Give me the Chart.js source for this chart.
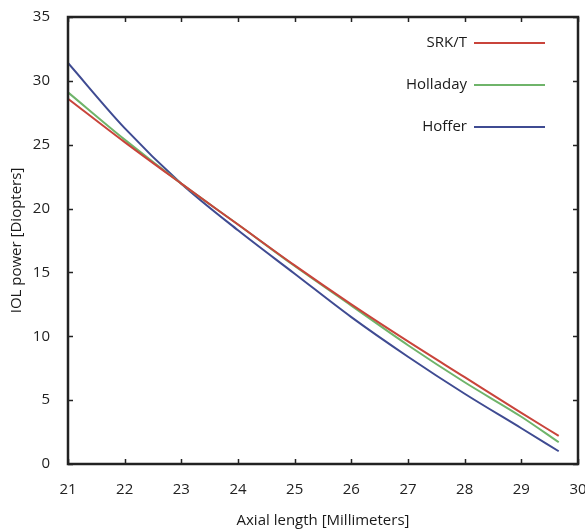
<!DOCTYPE html>
<html>
<head>
<meta charset="utf-8">
<script src="https://cdn.jsdelivr.net/npm/chart.js@4/dist/chart.umd.min.js"></script>
<style>
  html, body { margin: 0; padding: 0; background: #fff; }
  #wrap { width: 585px; height: 530px; position: relative; }
</style>
</head>
<body>
<div id="wrap"><canvas id="chartIol"></canvas></div>
<script>
// longitud axial (mm) y potencia LIO (dioptrias)
var axialLength = [21, 22, 23, 24, 25, 26, 27, 28, 29, 29.66];
var srkT     = [28.6, 25.2, 21.95, 18.75, 15.55, 12.5, 9.6, 6.8, 4.0, 2.2];
var holladay = [29.1, 25.4, 21.95, 18.75, 15.5, 12.4, 9.3, 6.4, 3.7, 1.7];
var hoffer   = [31.4, 26.3, 21.95, 18.3, 14.9, 11.5, 8.4, 5.5, 2.8, 1.0];

var xTicks = [21, 22, 23, 24, 25, 26, 27, 28, 29, 30];
var yTicks = [0, 5, 10, 15, 20, 25, 30, 35];

var seriesNames = ["SRK/T", "Holladay", "Hoffer"];
var seriesColors = ["#c9443b", "#6fb46a", "#3f4b92"];

function toPoints(vals) {
  return vals.map(function (v, i) { return { x: axialLength[i], y: v }; });
}

var fuente = "'Open Sans', 'Noto Sans', sans-serif";

// caja alrededor del area, marcas hacia adentro y leyenda a la derecha
var cajaPlugin = {
  id: "caja",
  afterDraw: function (chart) {
    var ctx = chart.ctx;
    var a = chart.chartArea;
    var sx = chart.scales.x, sy = chart.scales.y;
    ctx.save();
    ctx.strokeStyle = "#222";
    ctx.lineWidth = 1.5;
    // marcas
    xTicks.forEach(function (t) {
      var px = Math.round(sx.getPixelForValue(t)) + 0.5;
      ctx.beginPath();
      ctx.moveTo(px, a.bottom); ctx.lineTo(px, a.bottom - 5);
      ctx.moveTo(px, a.top); ctx.lineTo(px, a.top + 5);
      ctx.stroke();
    });
    yTicks.forEach(function (t) {
      var py = Math.round(sy.getPixelForValue(t)) + 0.5;
      ctx.beginPath();
      ctx.moveTo(a.left, py); ctx.lineTo(a.left + 5, py);
      ctx.moveTo(a.right, py); ctx.lineTo(a.right - 5, py);
      ctx.stroke();
    });
    ctx.lineWidth = 2.5;
    ctx.strokeRect(a.left, a.top, a.right - a.left, a.bottom - a.top);

    // leyenda
    ctx.font = "15px " + fuente;
    ctx.textAlign = "right";
    ctx.textBaseline = "middle";
    chart.data.datasets.forEach(function (ds, i) {
      var y = a.top + 26 + i * 42;
      ctx.fillStyle = "#1a1a1a";
      ctx.fillText(ds.label, a.right - 111, y);
      ctx.strokeStyle = ds.borderColor;
      ctx.lineWidth = 2;
      ctx.beginPath();
      ctx.moveTo(a.right - 104, y);
      ctx.lineTo(a.right - 33, y);
      ctx.stroke();
    });
    ctx.restore();
  }
};

new Chart(document.getElementById("chartIol"), {
  type: "line",
  data: {
    datasets: [
      { label: seriesNames[0], data: toPoints(srkT), borderColor: seriesColors[0] },
      { label: seriesNames[1], data: toPoints(holladay), borderColor: seriesColors[1] },
      { label: seriesNames[2], data: toPoints(hoffer), borderColor: seriesColors[2] }
    ]
  },
  options: {
    responsive: true,
    maintainAspectRatio: false,
    animation: false,
    layout: { padding: { top: 17, right: 7, left: 0, bottom: 0 } },
    elements: {
      line: { borderWidth: 2, cubicInterpolationMode: "monotone", fill: false },
      point: { radius: 0 }
    },
    plugins: {
      legend: { display: false },
      tooltip: { enabled: false }
    },
    scales: {
      x: {
        type: "linear",
        min: 21, max: 30,
        afterBuildTicks: function (s) { s.ticks = xTicks.map(function (v) { return { value: v }; }); },
        afterFit: function (s) { s.height = 66; s.paddingLeft = 0; s.paddingRight = 0; },
        grid: { display: false, drawTicks: false },
        border: { display: false },
        ticks: { color: "#222", font: { size: 15, family: fuente }, padding: 17, maxRotation: 0 },
        title: { display: true, text: "Axial length [Millimeters]", color: "#1a1a1a",
                 font: { size: 15, family: fuente }, padding: { top: 3, bottom: 0 } }
      },
      y: {
        min: 0, max: 35,
        afterBuildTicks: function (s) { s.ticks = yTicks.map(function (v) { return { value: v }; }); },
        afterFit: function (s) { s.width = 68; s.paddingTop = 0; s.paddingBottom = 0; },
        grid: { display: false, drawTicks: false },
        border: { display: false },
        ticks: { color: "#222", font: { size: 15, family: fuente }, padding: 18 },
        title: { display: true, text: "IOL power [Diopters]", color: "#1a1a1a",
                 font: { size: 15, family: fuente }, padding: { top: 8, bottom: 4 } }
      }
    }
  },
  plugins: [cajaPlugin]
});
</script>
</body>
</html>
